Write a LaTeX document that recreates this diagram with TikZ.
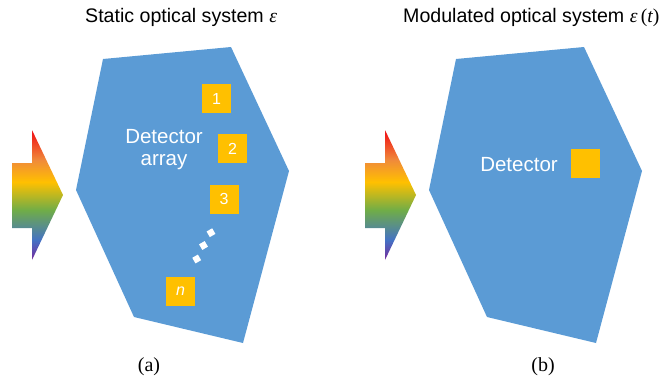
\documentclass[tikz,border=0pt]{standalone}
\usepackage{fontspec}
\setmainfont{Liberation Sans}
\newfontfamily\tnr{Liberation Serif}
\definecolor{hexblue}{HTML}{5B9BD5}
\definecolor{sqorange}{HTML}{FFC000}
\definecolor{rpurple}{HTML}{7030A0}
\definecolor{rblue}{HTML}{4472C4}
\definecolor{rgreen}{HTML}{70AD47}
\definecolor{rgold}{HTML}{FFC000}
\definecolor{rorange}{HTML}{F08A3A}
\definecolor{rred}{HTML}{F01818}
\pgfdeclareverticalshading{rainbowsh}{100bp}{color(0bp)=(rpurple); color(25.8bp)=(rpurple); color(32.7bp)=(rblue); color(44.2bp)=(rgreen); color(55bp)=(rgold); color(63.5bp)=(rorange); color(73.8bp)=(rred); color(100bp)=(rred)}
\tikzset{
  hexa/.style={fill=hexblue, draw=none},
  rarrow/.style={shading=rainbowsh, draw=none},
  sq/.style={fill=sqorange, draw=none, minimum size=29pt, inner sep=0pt, text=white, font=\fontsize{16}{18}\selectfont},
  wdot/.style={fill=white, draw=none, minimum size=6.5pt, inner sep=0pt, rotate=30},
  lbl/.style={inner sep=0pt, text=white, font=\fontsize{20.5}{24}\selectfont, anchor=base},
  ttl/.style={inner sep=0pt, text=black, font=\fontsize{19.6}{23}\selectfont, anchor=base west},
  captxt/.style={inner sep=0pt, text=black, font=\tnr\fontsize{20}{24}\selectfont, anchor=base},
}
\begin{document}
\begin{tikzpicture}[x=1pt, y=-1pt]
\useasboundingbox (0,0) rectangle (671,375);
% panel (a)
\path[rarrow] (12,163) -- (32,163) -- (32,130) -- (63,195) -- (32,260) -- (32,228) -- (12,228) -- cycle;
\path[hexa] (103,59) -- (231,47) -- (289,171) -- (243,343) -- (134,317) -- (76,190) -- cycle;
\node[ttl] (ta) at (85,22) {Static optical system {\tnr\itshape ε}};
\node[lbl] (deta) at (164,143) {Detector};
\node[lbl] (detb) at (164,165) {array};
\node[sq] (s1) at (216.5,98.5) {1};
\node[sq] (s2) at (232.5,148.5) {2};
\node[sq] (s3) at (224,199) {3};
\node[sq] (sn) at (180.5,291) {\itshape n};
\node[wdot] (d1) at (211,232.7) {};
\node[wdot] (d2) at (203.5,245.5) {};
\node[wdot] (d3) at (196.7,259) {};
\node[captxt] (ca) at (149,371) {(a)};
% panel (b)
\path[rarrow] (365,163) -- (385,163) -- (385,130) -- (416,195) -- (385,260) -- (385,228) -- (365,228) -- cycle;
\path[hexa] (456,59) -- (584,47) -- (642,171) -- (596,343) -- (487,317) -- (429,190) -- cycle;
\node[ttl] (tb) at (403,22) {Modulated optical system {\tnr\itshape ε\,{\upshape(}t{\upshape)}}};
\node[lbl] (detr) at (519,171) {Detector};
\node[sq] (sr) at (585,163.5) {};
\node[captxt] (cb) at (543,371) {(b)};
\end{tikzpicture}
\end{document}
